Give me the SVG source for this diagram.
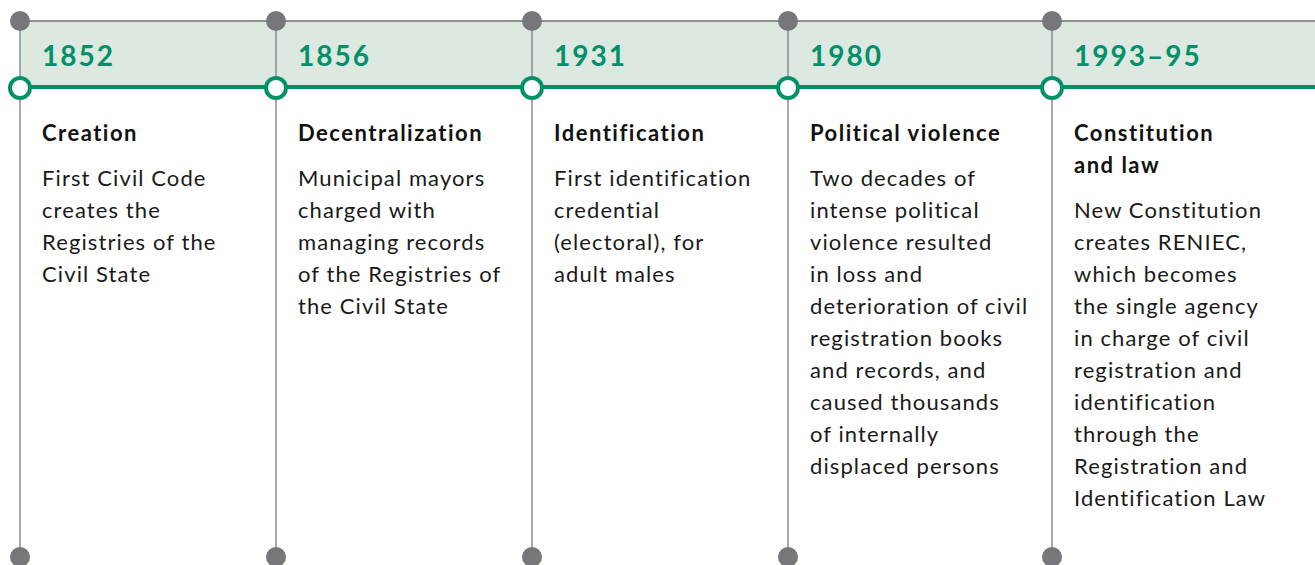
<svg xmlns="http://www.w3.org/2000/svg" width="1315" height="565" viewBox="0 0 1315 565">
<style>
.band{fill:#dce8e0}
.vline{stroke:#8f8f92;stroke-width:1.5}
.gline{stroke:#8f8f92;stroke-width:2}
.dot{fill:#77777b}
.ring{fill:#fff;stroke:#00916a;stroke-width:4}
.year{font-family:Lato,"Open Sans",sans-serif;font-weight:700;font-size:28px;letter-spacing:2px;fill:#00916a}
.title{font-family:Lato,"Open Sans",sans-serif;font-weight:700;font-size:22px;letter-spacing:1.5px;fill:#111}
.body{font-family:Lato,"Open Sans",sans-serif;font-size:22px;letter-spacing:1.1px;fill:#1a1a1a}
</style>
<rect class="band" x="20" y="21" width="1295" height="66"/>
<g id="connectors">
<line class="gline" x1="20" y1="21" x2="1315" y2="21"/>
<line x1="20" y1="87" x2="1315" y2="87" stroke="#00916a" stroke-width="4"/>
<line class="vline" x1="20" y1="21" x2="20" y2="557"/>
<line class="vline" x1="276" y1="21" x2="276" y2="557"/>
<line class="vline" x1="532" y1="21" x2="532" y2="557"/>
<line class="vline" x1="788" y1="21" x2="788" y2="557"/>
<line class="vline" x1="1052" y1="21" x2="1052" y2="557"/>
</g>
<g id="node-1852">
<circle class="dot" cx="20" cy="21" r="10"/>
<circle class="ring" cx="20" cy="88" r="10"/>
<circle class="dot" cx="20" cy="557" r="10"/>
<text class="year" x="42" y="66">1852</text>
<text class="title" x="42" y="141">Creation</text>
<text class="body" x="42" y="186">First Civil Code</text>
<text class="body" x="42" y="218">creates the</text>
<text class="body" x="42" y="250">Registries of the</text>
<text class="body" x="42" y="282">Civil State</text>
</g>
<g id="node-1856">
<circle class="dot" cx="276" cy="21" r="10"/>
<circle class="ring" cx="276" cy="88" r="10"/>
<circle class="dot" cx="276" cy="557" r="10"/>
<text class="year" x="298" y="66">1856</text>
<text class="title" x="298" y="141">Decentralization</text>
<text class="body" x="298" y="186">Municipal mayors</text>
<text class="body" x="298" y="218">charged with</text>
<text class="body" x="298" y="250">managing records</text>
<text class="body" x="298" y="282">of the Registries of</text>
<text class="body" x="298" y="314">the Civil State</text>
</g>
<g id="node-1931">
<circle class="dot" cx="532" cy="21" r="10"/>
<circle class="ring" cx="532" cy="88" r="10"/>
<circle class="dot" cx="532" cy="557" r="10"/>
<text class="year" x="554" y="66">1931</text>
<text class="title" x="554" y="141">Identification</text>
<text class="body" x="554" y="186">First identification</text>
<text class="body" x="554" y="218">credential</text>
<text class="body" x="554" y="250">(electoral), for</text>
<text class="body" x="554" y="282">adult males</text>
</g>
<g id="node-1980">
<circle class="dot" cx="788" cy="21" r="10"/>
<circle class="ring" cx="788" cy="88" r="10"/>
<circle class="dot" cx="788" cy="557" r="10"/>
<text class="year" x="810" y="66">1980</text>
<text class="title" x="810" y="141">Political violence</text>
<text class="body" x="810" y="186">Two decades of</text>
<text class="body" x="810" y="218">intense political</text>
<text class="body" x="810" y="250">violence resulted</text>
<text class="body" x="810" y="282">in loss and</text>
<text class="body" x="810" y="314">deterioration of civil</text>
<text class="body" x="810" y="346">registration books</text>
<text class="body" x="810" y="378">and records, and</text>
<text class="body" x="810" y="410">caused thousands</text>
<text class="body" x="810" y="442">of internally</text>
<text class="body" x="810" y="474">displaced persons</text>
</g>
<g id="node-1993">
<circle class="dot" cx="1052" cy="21" r="10"/>
<circle class="ring" cx="1052" cy="88" r="10"/>
<circle class="dot" cx="1052" cy="557" r="10"/>
<text class="year" x="1074" y="66">1993–95</text>
<text class="title" x="1074" y="141">Constitution</text>
<text class="title" x="1074" y="173">and law</text>
<text class="body" x="1074" y="218">New Constitution</text>
<text class="body" x="1074" y="250">creates RENIEC,</text>
<text class="body" x="1074" y="282">which becomes</text>
<text class="body" x="1074" y="314">the single agency</text>
<text class="body" x="1074" y="346">in charge of civil</text>
<text class="body" x="1074" y="378">registration and</text>
<text class="body" x="1074" y="410">identification</text>
<text class="body" x="1074" y="442">through the</text>
<text class="body" x="1074" y="474">Registration and</text>
<text class="body" x="1074" y="506">Identification Law</text>
</g>
</svg>
